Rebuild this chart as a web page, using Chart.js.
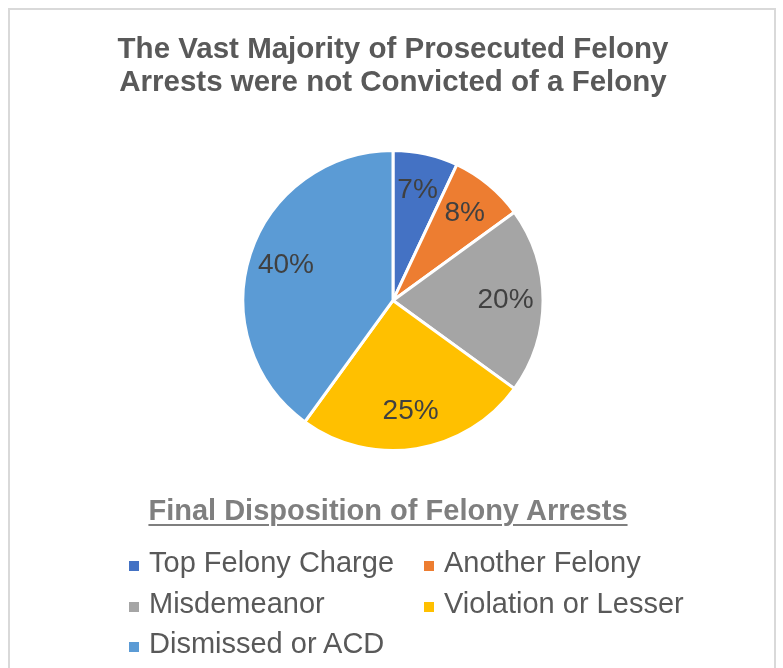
<!DOCTYPE html>
<html>
<head>
<meta charset="utf-8">
<script src="https://cdn.jsdelivr.net/npm/chart.js@4"></script>
<style>
	body { margin: 0; background: #fff; font-family: "Liberation Sans", Arial, sans-serif; }
	#wrap { position: relative; width: 783px; height: 668px; overflow: hidden; }
	#frame { position: absolute; left: 8px; top: 8px; width: 764px; height: 700px; border: 2px solid #d9d9d9; }
	#chart { position: absolute; left: 0; top: 0; }
	#legend { position: absolute; left: 0; top: 0; width: 783px; }
	#legend-title { position: absolute; left: 0; width: 776px; top: 492px; text-align: center; font-weight: bold; font-size: 29px; line-height: 36px; color: #7f7f7f; text-decoration: underline; text-decoration-thickness: 2px; text-underline-offset: 4px; }
	.item { position: absolute; font-size: 29px; line-height: 40px; color: #595959; white-space: nowrap; }
	.box { display: inline-block; width: 10px; height: 10px; margin-right: 10px; vertical-align: middle; position: relative; top: 2px; }
</style>
</head>
<body>
<div id="wrap">
	<div id="frame"></div>
	<canvas id="chart" width="783" height="668"></canvas>
	<div id="legend">
		<div id="legend-title">Final Disposition of Felony Arrests</div>
	</div>
</div>
<script>
// DATA
const categories = ['Top Felony Charge', 'Another Felony', 'Misdemeanor', 'Violation or Lesser', 'Dismissed or ACD'];
const shares = [7, 8, 20, 25, 40];
const colors = ['#4472C4', '#ED7D31', '#A5A5A5', '#FFC000', '#5B9BD5'];
const titleLines = ['The Vast Majority of Prosecuted Felony', 'Arrests were not Convicted of a Felony'];

// PERCENT LABELS INSIDE THE SLICES
const sliceLabels = {
	id: 'sliceLabels',
	afterDatasetsDraw(chart) {
		let ctx = chart.ctx;
		let meta = chart.getDatasetMeta(0);
		ctx.save();
		ctx.font = '28px "Liberation Sans", Arial, sans-serif';
		ctx.fillStyle = '#404040';
		ctx.textAlign = 'center';
		ctx.textBaseline = 'middle';
		meta.data.forEach((arc, i) => {
			let p = arc.getProps(['x', 'y', 'startAngle', 'endAngle', 'outerRadius'], true);
			let mid = (p.startAngle + p.endAngle) / 2;
			let r = p.outerRadius * 0.75;
			ctx.fillText(shares[i] + '%', p.x + Math.cos(mid) * r, p.y + Math.sin(mid) * r);
		});
		ctx.restore();
	}
};

new Chart(document.getElementById('chart'), {
	type: 'pie',
	data: {
		labels: categories,
		datasets: [{
			data: shares,
			backgroundColor: colors,
			borderColor: '#ffffff',
			borderWidth: 3
		}]
	},
	options: {
		responsive: false,
		animation: false,
		layout: { padding: { left: 3, right: 0, top: 0, bottom: 216 } },
		plugins: {
			legend: { display: false },
			tooltip: { enabled: false },
			title: {
				display: true,
				text: titleLines,
				color: '#595959',
				font: { family: '"Liberation Sans", Arial, sans-serif', size: 29.5, weight: 'bold', lineHeight: 1.1 },
				padding: { top: 34, bottom: 50 }
			}
		}
	},
	plugins: [sliceLabels]
});

// HTML LEGEND IN TWO COLUMNS
let legend = document.getElementById('legend');
let colX = [129, 424];
let rowY = [542, 583, 623];
categories.forEach((name, i) => {
	let item = document.createElement('div');
	item.className = 'item';
	item.style.left = colX[i % 2] + 'px';
	item.style.top = rowY[Math.floor(i / 2)] + 'px';
	let box = document.createElement('span');
	box.className = 'box';
	box.style.background = colors[i];
	item.appendChild(box);
	item.appendChild(document.createTextNode(name));
	legend.appendChild(item);
});
</script>
</body>
</html>
